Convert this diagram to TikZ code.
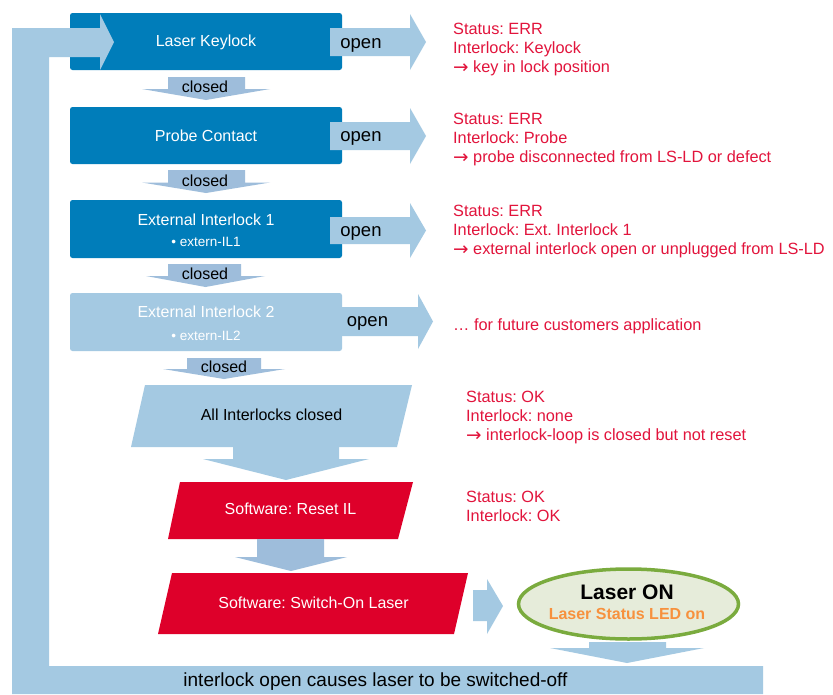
\documentclass[tikz,border=0pt]{standalone}
\usepackage{fontspec}
\setmainfont{Liberation Sans}
\newfontfamily\arrowfont{DejaVu Sans}
\usetikzlibrary{shapes.geometric}
\definecolor{dblue}{RGB}{0,125,186}
\definecolor{lblue}{RGB}{164,201,226}
\definecolor{cblue}{RGB}{158,189,219}
\definecolor{boxred}{RGB}{222,0,42}
\definecolor{txtred}{RGB}{226,20,60}
\definecolor{ledorange}{RGB}{247,145,61}
\definecolor{egreen}{RGB}{122,171,62}
\definecolor{efill}{RGB}{230,236,218}
\newcommand\myarr{{\arrowfont\fontsize{18.5}{19}\selectfont\raisebox{-0.5pt}{→}}}
\begin{document}
\frenchspacing
\begin{tikzpicture}[x=1pt,y=-1pt,
  fsixteen/.style={font=\fontsize{16}{19}\selectfont\frenchspacing},
  bluebox/.style={fill=dblue, rounded corners=2.5pt, minimum width=272pt, minimum height=57pt,
    text=white, fsixteen, inner sep=0pt, align=center},
  paleblue/.style={bluebox, fill=lblue},
  openarrow/.style={fill=lblue},
  closedarrow/.style={fill=cblue},
  opentxt/.style={font=\fontsize{18.5}{20}\selectfont, text=black, inner sep=0pt},
  closedtxt/.style={fsixteen, text=black, inner sep=0pt},
  stattxt/.style={font=\fontsize{16.3}{19}\selectfont\frenchspacing, text=txtred, align=left, anchor=north west, inner sep=0pt},
  paratxt/.style={fsixteen, inner sep=0pt},
  subtxt/.style={font=\fontsize{13.5}{16}\selectfont}
]
\useasboundingbox (0,0) rectangle (833,694);
\fill[white] (0,0) rectangle (833,694);

% process boxes
\node[bluebox] (kl) at (206,41.5) {};
\node[fsixteen, text=white, inner sep=0pt] (klt) at (206,42.5) {Laser Keylock};
\node[bluebox] (pc) at (206,135.5) {Probe Contact};
\node[bluebox, minimum height=58pt] (ei1) at (206,229) {};
\node[fsixteen, text=white, inner sep=0pt] (ei1t) at (206,219.5) {External Interlock 1};
\node[subtxt, text=white, inner sep=0pt] (ei1s) at (206,242) {• extern-IL1};
\node[paleblue, minimum height=58pt] (ei2) at (206,322) {};
\node[fsixteen, text=white, inner sep=0pt] (ei2t) at (206,311.5) {External Interlock 2};
\node[subtxt, text=white, inner sep=0pt] (ei2s) at (206,336) {• extern-IL2};

% feedback loop arrow and bottom bar
\fill[lblue] (12,694) -- (12,28) -- (100,28) -- (100,14) -- (114,42) -- (100,70) -- (100,57)
  -- (49,57) -- (49,666) -- (763,666) -- (763,694) -- cycle;
\node[font=\fontsize{19}{22}\selectfont, text=black, inner sep=0pt] (loop) at (375.5,682)
  {interlock open causes laser to be switched-off};

% open arrows
\fill[openarrow] (330,28) -- (410,28) -- (410,14) -- (426,42) -- (410,70) -- (410,56) -- (330,56) -- cycle;
\fill[openarrow] (330,122) -- (410,122) -- (410,108) -- (426,136) -- (410,164) -- (410,150) -- (330,150) -- cycle;
\fill[openarrow] (330,217) -- (410,217) -- (410,203) -- (426,230.5) -- (410,258) -- (410,244) -- (330,244) -- cycle;
\fill[openarrow] (342,307) -- (418,307) -- (418,294) -- (433,321.5) -- (418,349) -- (418,336) -- (342,336) -- cycle;
\node[opentxt] (o1) at (361,45) {open};
\node[opentxt] (o2) at (361,138) {open};
\node[opentxt] (o3) at (361,233) {open};
\node[opentxt] (o4) at (367.5,323) {open};

% closed arrows
\fill[closedarrow] (168,77) -- (245,77) -- (245,89) -- (270,89) -- (206,100) -- (142,89) -- (168,89) -- cycle;
\fill[closedarrow] (168,170) -- (245,170) -- (245,182.5) -- (270,182.5) -- (206,193) -- (142,182.5) -- (168,182.5) -- cycle;
\fill[closedarrow] (168,264) -- (241,264) -- (241,276) -- (265,276) -- (205.5,287) -- (146,276) -- (168,276) -- cycle;
\fill[closedarrow] (187,358) -- (261,358) -- (261,369) -- (285,369) -- (224,379) -- (163,369) -- (187,369) -- cycle;
\node[closedtxt] (c1) at (205,87) {closed};
\node[closedtxt] (c2) at (205,180.5) {closed};
\node[closedtxt] (c3) at (205,274) {closed};
\node[closedtxt] (c4) at (224,367) {closed};

% parallelograms
\fill[lblue] (145,385) -- (412,385) -- (397,447) -- (131,447) -- cycle;
\node[paratxt, text=black] (all) at (271.5,415) {All Interlocks closed};
\fill[lblue] (233,447) -- (339,447) -- (339,459) -- (369,459) -- (286,480) -- (203,459) -- (233,459) -- cycle;
\fill[boxred] (180,482) -- (413,482) -- (398,539) -- (168,539) -- cycle;
\node[paratxt, text=white] (reset) at (290.5,509) {Software: Reset IL};
\fill[cblue] (257,539) -- (324,539) -- (324,557) -- (347,557) -- (291,571) -- (235,557) -- (257,557) -- cycle;
\fill[boxred] (172,573) -- (468,573) -- (454,634) -- (158,634) -- cycle;
\node[paratxt, text=white] (swon) at (313.5,603) {Software: Switch-On Laser};
\fill[lblue] (473,590) -- (487,590) -- (487,579) -- (503,606) -- (487,634) -- (487,621) -- (473,621) -- cycle;

% Laser ON
\node[ellipse, draw=egreen, line width=3.5pt, fill=efill, minimum width=220pt, minimum height=70pt, inner sep=0pt]
  (laser) at (628.5,604) {};
\node[font=\fontsize{21}{24}\selectfont\bfseries, text=black, inner sep=0pt] (lon) at (627,592) {Laser ON};
\node[font=\fontsize{16}{19}\selectfont\bfseries, text=ledorange, inner sep=0pt] (led) at (627,613.5) {Laser Status LED on};
\fill[lblue] (589,642) -- (666,642) -- (666,648) -- (704,648) -- (627,663) -- (550,648) -- (589,648) -- cycle;

% status texts
\node[stattxt] (s1) at (453,23) {Status: ERR\\Interlock: Keylock\\\myarr\ key in lock position};
\node[stattxt] (s2) at (453,113) {Status: ERR\\Interlock: Probe\\\myarr\ probe disconnected from LS-LD or defect};
\node[stattxt] (s3) at (453,205) {Status: ERR\\Interlock: Ext. Interlock 1\\\myarr\ external interlock open or unplugged from LS-LD};
\node[stattxt] (s4) at (453,318) {… for future customers application};
\node[stattxt] (s5) at (466,391) {Status: OK\\Interlock: none\\\myarr\ interlock-loop is closed but not reset};
\node[stattxt] (s6) at (466,491) {Status: OK\\Interlock: OK};
\end{tikzpicture}
\end{document}
